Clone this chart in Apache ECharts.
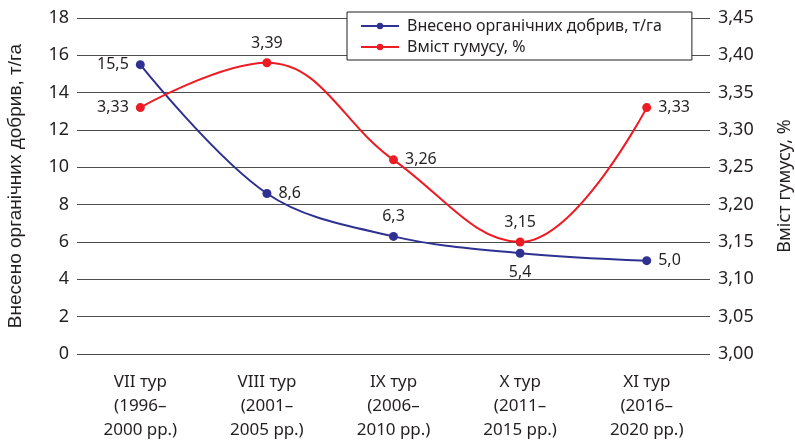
<!DOCTYPE html>
<html>
<head>
<meta charset="utf-8">
<script src="https://cdn.jsdelivr.net/npm/echarts@6/dist/echarts.min.js"></script>
<style>
  html, body { margin: 0; padding: 0; background: #fff; }
  #chart { width: 795px; height: 442px; }
</style>
</head>
<body>
<div id="chart"></div>
<script>
const categories = [
  'VII тур\n(1996–\n2000 рр.)',
  'VIII тур\n(2001–\n2005 рр.)',
  'IX тур\n(2006–\n2010 рр.)',
  'X тур\n(2011–\n2015 рр.)',
  'XI тур\n(2016–\n2020 рр.)'
];
const fertilizer = [15.5, 8.6, 6.3, 5.4, 5.0];
const humus = [3.33, 3.39, 3.26, 3.15, 3.33];
const fertPos = ['left', 'right', 'top', 'bottom', 'right'];
const humusPos = ['left', 'top', 'right', 'top', 'right'];

const font = '"Noto Sans", sans-serif';
const textColor = '#231f20';
const comma = (v, d) => v.toFixed(d).replace('.', ',');

const chart = echarts.init(document.getElementById('chart'));
chart.setOption({
  animation: false,
  textStyle: { fontFamily: font, color: textColor },
  grid: { left: 77, right: 85, top: 18, bottom: 88, outerBoundsMode: 'none', containLabel: false },
  legend: {
    top: 12, left: 347,
    orient: 'vertical',
    padding: [6, 30, 5, 13],
    itemGap: 5,
    itemWidth: 38, itemHeight: 8,
    borderColor: '#231f20', borderWidth: 1,
    backgroundColor: '#fff',
    textStyle: { fontSize: 16, color: textColor, fontFamily: font, padding: [0, 0, 0, 3] },
    data: ['Внесено органічних добрив, т/га', 'Вміст гумусу, %']
  },
  xAxis: {
    type: 'category',
    data: categories,
    axisLine: { show: false },
    axisTick: { show: false },
    axisLabel: { fontSize: 17, lineHeight: 24, color: textColor, margin: 16 }
  },
  yAxis: [{
    type: 'value', min: 0, max: 18, interval: 2,
    name: 'Внесено органічних добрив, т/га',
    nameLocation: 'middle', nameGap: 52,
    nameTextStyle: { fontSize: 19, color: textColor, fontFamily: '"Liberation Sans", Arial, sans-serif' },
    axisLabel: { fontSize: 18, color: textColor, margin: 8 },
    splitLine: { lineStyle: { color: '#4d4d4d', width: 1.2 } },
    axisLine: { show: false }, axisTick: { show: false }
  }, {
    type: 'value', min: 3, max: 3.45, interval: 0.05,
    name: 'Вміст гумусу, %',
    nameLocation: 'middle', nameGap: 66, nameRotate: 90,
    nameTextStyle: { fontSize: 18, color: textColor },
    axisLabel: { fontSize: 18, color: textColor, margin: 8, formatter: v => comma(v, 2) },
    splitLine: { show: false },
    axisLine: { show: false }, axisTick: { show: false }
  }],
  series: [{
    name: 'Внесено органічних добрив, т/га',
    type: 'line',
    yAxisIndex: 0,
    smooth: 0.35,
    symbol: 'circle', symbolSize: 9,
    color: '#2e3192',
    lineStyle: { width: 2, color: '#2e3192' },
    data: fertilizer.map((v, i) => ({
      value: v,
      label: { show: true, position: fertPos[i], distance: 7, fontSize: 16, color: textColor, formatter: () => comma(v, 1) }
    }))
  }, {
    name: 'Вміст гумусу, %',
    type: 'line',
    yAxisIndex: 1,
    smooth: 0.4,
    symbol: 'circle', symbolSize: 9,
    color: '#ed1c24',
    lineStyle: { width: 2, color: '#ed1c24' },
    data: humus.map((v, i) => ({
      value: v,
      label: { show: true, position: humusPos[i], distance: 7, fontSize: 16, color: textColor, formatter: () => comma(v, 2) }
    }))
  }]
});
</script>
</body>
</html>
